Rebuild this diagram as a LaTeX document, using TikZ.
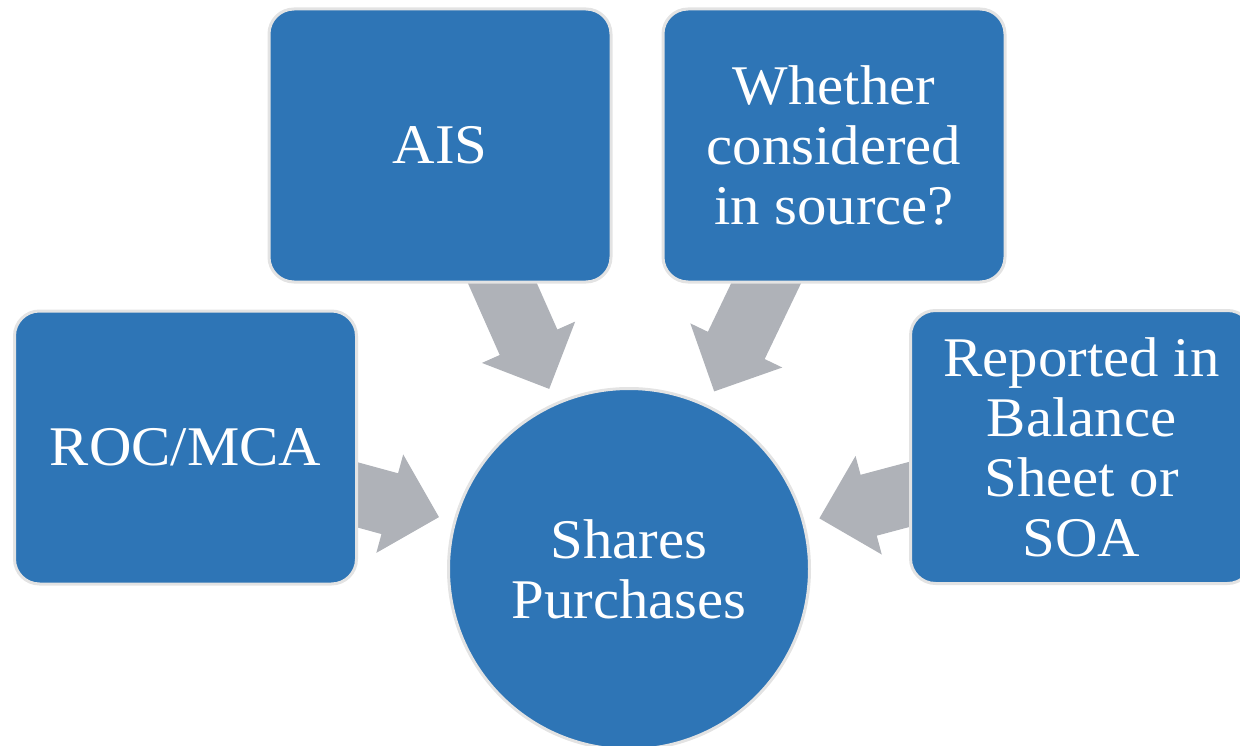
\documentclass[tikz,border=0pt]{standalone}
\usepackage{fontspec}
\setmainfont{Liberation Serif}[FakeStretch=1.05]
\usetikzlibrary{calc,backgrounds}
\definecolor{boxblue}{HTML}{2E75B6}
\definecolor{rimgray}{HTML}{E3E3E3}
\definecolor{arrowgray}{HTML}{AFB2B8}
\tikzset{
  basebox/.style={fill=boxblue, draw=rimgray, line width=3pt, text=white,
    align=center, inner sep=0pt, font=\fontsize{56}{60}\selectfont},
  srcbox/.style={basebox, rounded corners=25pt, minimum width=342pt, minimum height=273pt},
  hubcircle/.style={basebox, circle, minimum size=361pt},
  blockarrow/.style={fill=arrowgray, draw=none}
}
% #1 = point where the shaft leaves the box, #2 = name of the hub node
\newcommand{\blockarr}[2]{%
  \path ($(#2.center)!197pt!(#1)$) coordinate (T)
        ($(#1)!-20pt!(T)$) coordinate (S)
        ($(T)!51pt!(S)$) coordinate (E);
  \fill[blockarrow] ($(S)!31.5pt!90:(T)$) -- ($(E)!31.5pt!90:(T)$) -- ($(E)!51pt!90:(T)$)
    -- (T) -- ($(E)!51pt!-90:(T)$) -- ($(E)!31.5pt!-90:(T)$) -- ($(S)!31.5pt!-90:(T)$) -- cycle;
}
\begin{document}
\begin{tikzpicture}[x=1pt,y=-1pt]
\useasboundingbox (0,0) rectangle (1240,746);
\clip (0,0) rectangle (1240,746);
\node[srcbox] (ais) at (440,145.5) {AIS};
\node[srcbox] (whether) at (834,145.5) {Whether\\considered\\in source?};
\node[srcbox] (roc) at (185.5,447.5) {ROC/MCA};
\node[srcbox] (rep) at (1081.5,447) {Reported in\\Balance\\Sheet or\\SOA};
\node[hubcircle] (hub) at (629,569) {Shares\\Purchases};
\coordinate (aisout) at ($(ais.south)+(62.5,0)$);
\coordinate (whout) at ($(whether.south)+(-68,0)$);
\coordinate (rocout) at ($(roc.east)+(0,47.5)$);
\coordinate (repout) at ($(rep.west)+(0,47.5)$);
\begin{pgfonlayer}{background}
\blockarr{aisout}{hub}
\blockarr{whout}{hub}
\blockarr{rocout}{hub}
\blockarr{repout}{hub}
\end{pgfonlayer}
\end{tikzpicture}
\end{document}
